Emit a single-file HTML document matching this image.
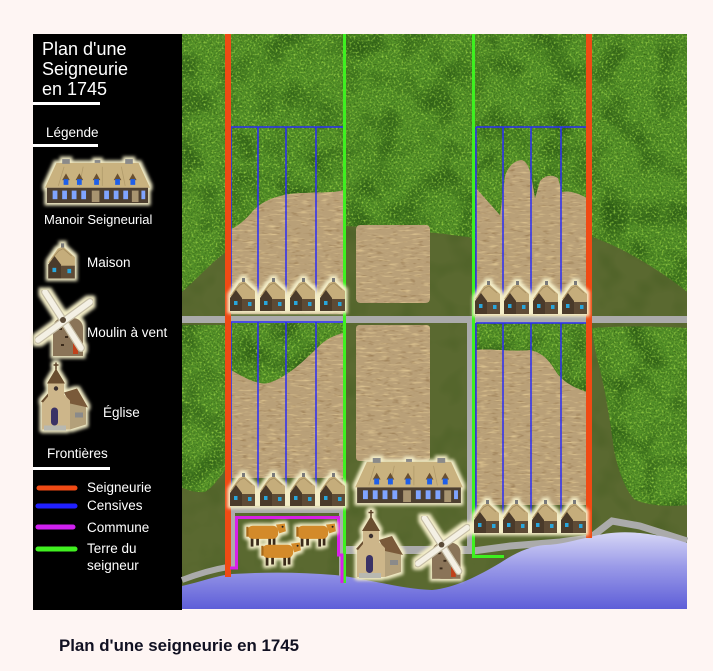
<!DOCTYPE html>
<html><head><meta charset="utf-8">
<style>
html,body{margin:0;padding:0;background:#fef5f3;}
svg{display:block;}
text{font-family:"Liberation Sans",Arial,sans-serif;}
</style></head>
<body>
<svg width="713" height="671" viewBox="0 0 713 671" xmlns="http://www.w3.org/2000/svg">
<defs>
  <filter id="glow" x="-25%" y="-25%" width="150%" height="150%" color-interpolation-filters="sRGB">
    <feMorphology in="SourceAlpha" operator="dilate" radius="2.5" result="d"/>
    <feGaussianBlur in="d" stdDeviation="1.6" result="b"/>
    <feFlood flood-color="#f4eec8"/>
    <feComposite in2="b" operator="in" result="g"/>
    <feMerge><feMergeNode in="g"/><feMergeNode in="SourceGraphic"/></feMerge>
  </filter>
  <filter id="ftex" filterUnits="userSpaceOnUse" x="182" y="34" width="505" height="575" color-interpolation-filters="sRGB">
    <feTurbulence type="fractalNoise" baseFrequency="0.5" numOctaves="2" seed="7" result="n"/>
    <feColorMatrix in="n" type="matrix" values="0 0 0 0 0.58  0 0 0 0 0.8  0 0 0 0 0.26  3 0 0 0 -1.5" result="l"/>
    <feTurbulence type="fractalNoise" baseFrequency="0.035" numOctaves="2" seed="3" result="n2"/>
    <feColorMatrix in="n2" type="matrix" values="0 0 0 0 0.17  0 0 0 0 0.36  0 0 0 0 0.08  2.4 0 0 0 -1.05" result="dk"/>
    <feTurbulence type="fractalNoise" baseFrequency="0.7" numOctaves="1" seed="21" result="n3"/>
    <feColorMatrix in="n3" type="matrix" values="0 0 0 0 0.2  0 0 0 0 0.38  0 0 0 0 0.08  3 0 0 0 -1.5" result="dk2"/>
    <feMerge result="m"><feMergeNode in="SourceGraphic"/><feMergeNode in="dk"/><feMergeNode in="dk2"/><feMergeNode in="l"/></feMerge>
    <feComposite in="m" in2="SourceAlpha" operator="in"/>
  </filter>
  <filter id="wtex" filterUnits="userSpaceOnUse" x="182" y="34" width="505" height="575" color-interpolation-filters="sRGB">
    <feTurbulence type="fractalNoise" baseFrequency="0.09 0.5" numOctaves="2" seed="11" result="n"/>
    <feColorMatrix in="n" type="matrix" values="0 0 0 0 0.86  0 0 0 0 0.76  0 0 0 0 0.56  3 0 0 0 -1.6" result="l"/>
    <feTurbulence type="fractalNoise" baseFrequency="0.12 0.4" numOctaves="2" seed="4" result="n2"/>
    <feColorMatrix in="n2" type="matrix" values="0 0 0 0 0.58  0 0 0 0 0.46  0 0 0 0 0.3  2.5 0 0 0 -1.45" result="dk"/>
    <feMerge result="m"><feMergeNode in="SourceGraphic"/><feMergeNode in="dk"/><feMergeNode in="l"/></feMerge>
    <feComposite in="m" in2="SourceAlpha" operator="in"/>
  </filter>
  <filter id="otex" filterUnits="userSpaceOnUse" x="182" y="34" width="505" height="575" color-interpolation-filters="sRGB">
    <feTurbulence type="fractalNoise" baseFrequency="0.04" numOctaves="2" seed="9" result="n"/>
    <feColorMatrix in="n" type="matrix" values="0 0 0 0 0.3  0 0 0 0 0.38  0 0 0 0 0.15  2 0 0 0 -0.9" result="l"/>
    <feMerge result="m"><feMergeNode in="SourceGraphic"/><feMergeNode in="l"/></feMerge>
    <feComposite in="m" in2="SourceAlpha" operator="in"/>
  </filter>
  <linearGradient id="water" x1="0" y1="0" x2="0" y2="1">
    <stop offset="0" stop-color="#d6d6f6"/>
    <stop offset="0.45" stop-color="#9a9ae8"/>
    <stop offset="1" stop-color="#5e5ed8"/>
  </linearGradient>

  <symbol id="house" viewBox="0 0 30 36">
    <polygon points="3,18 12,5 17,3 28,13 28,22 10,22" fill="#c5ad7b"/>
    <polyline points="6,15 13,7 17,5 25,12" fill="none" stroke="#a38c5e" stroke-width="0.8"/>
    <rect x="15" y="0" width="3" height="4" fill="#7a7a7a"/>
    <polygon points="3,20 9,12 15,20 15,33 3,33" fill="#4a3a2a"/>
    <rect x="15" y="21" width="13" height="12" fill="#5e4b36"/>
    <rect x="7" y="23" width="3.5" height="4" fill="#28a6dc"/>
    <rect x="21" y="24" width="3.5" height="4" fill="#28a6dc"/>
  </symbol>

  <symbol id="manor" viewBox="0 0 110 48">
    <polygon points="12,4 98,4 110,30 0,30" fill="#c9b27f"/>
    <path d="M20,8 L14,28 M40,8 L36,28 M60,8 L60,28 M80,8 L84,28" stroke="#b09a6a" stroke-width="0.8"/>
    <rect x="18" y="0" width="8" height="5" fill="#8a8a8a"/>
    <rect x="52" y="1" width="6" height="3" fill="#8a8a8a"/>
    <rect x="84" y="0" width="8" height="5" fill="#8a8a8a"/>
    <g fill="#6a5030">
      <polygon points="18,22 22,15 26,22"/><polygon points="32,22 36,15 40,22"/><polygon points="50,22 54,15 58,22"/><polygon points="72,22 76,15 80,22"/><polygon points="88,22 92,15 96,22"/>
    </g>
    <g fill="#1f5fe8">
      <rect x="19.5" y="21" width="5" height="6"/><rect x="33.5" y="21" width="5" height="6"/><rect x="51.5" y="21" width="5" height="6"/><rect x="73.5" y="21" width="5" height="6"/><rect x="89.5" y="21" width="5" height="6"/>
    </g>
    <rect x="2" y="30" width="106" height="16" fill="#4d3f30"/>
    <g fill="#7fa4ff">
      <rect x="8" y="33" width="5" height="9"/><rect x="18" y="33" width="5" height="9"/><rect x="28" y="33" width="5" height="9"/><rect x="38" y="33" width="5" height="9"/>
      <rect x="62" y="33" width="5" height="9"/><rect x="72" y="33" width="5" height="9"/><rect x="82" y="33" width="5" height="9"/><rect x="101" y="33" width="4" height="9"/>
    </g>
    <rect x="49" y="33" width="8" height="12" fill="#a89470"/>
    <rect x="91" y="33" width="7" height="12" fill="#a89470"/>
  </symbol>

  <symbol id="church" viewBox="0 0 48 70">
    <line x1="16" y1="0" x2="16" y2="7" stroke="#5a4028" stroke-width="1.5"/>
    <line x1="13.5" y1="2.5" x2="18.5" y2="2.5" stroke="#5a4028" stroke-width="1.5"/>
    <polygon points="30,40 30,67 46,62 46,44" fill="#b3a07a"/>
    <polygon points="24,30 37,26 48,45 30,41" fill="#7a5a3a"/>
    <polygon points="2,67 2,38 8,32 8,20 24,20 24,32 30,38 30,67" fill="#cdb68a"/>
    <polygon points="7,21 16,6 25,21" fill="#6a4e30"/>
    <polygon points="1,39 8,31 8,34 3,40" fill="#6a4e30"/>
    <circle cx="16" cy="26" r="2.2" fill="#3a3030"/>
    <rect x="11" y="45" width="7" height="18" rx="3.5" fill="#3a3266"/>
    <rect x="4" y="63" width="22" height="5" fill="#b8b8b0"/>
    <rect x="35" y="50" width="8" height="5" fill="#8a8a8a"/>
  </symbol>

  <symbol id="mill" viewBox="0 0 58 67">
    <rect x="18" y="28" width="30" height="38" rx="10" fill="#8a7458"/>
    <rect x="18" y="40" width="30" height="26" fill="#8a7458"/>
    <g fill="#3a2a1a"><rect x="24" y="38" width="3" height="2"/><rect x="30" y="46" width="3" height="2"/><rect x="26" y="54" width="3" height="2"/></g>
    <rect x="38" y="52" width="5" height="12" fill="#c0401a"/>
    <line x1="10" y1="2" x2="46" y2="58" stroke="#c8c0a8" stroke-width="8" stroke-linecap="round"/>
    <line x1="10" y1="2" x2="46" y2="58" stroke="#f4f0e4" stroke-width="5.5" stroke-linecap="round"/>
    <line x1="55" y1="12" x2="3" y2="50" stroke="#c8c0a8" stroke-width="8" stroke-linecap="round"/>
    <line x1="55" y1="12" x2="3" y2="50" stroke="#f4f0e4" stroke-width="5.5" stroke-linecap="round"/>
    <circle cx="28" cy="30" r="3" fill="#5a4a38"/>
  </symbol>

  <symbol id="cow" viewBox="0 0 40 26">
    <g fill="#3a2a1a"><rect x="7" y="14" width="2.5" height="10"/><rect x="12" y="14" width="2.5" height="9"/><rect x="23" y="14" width="2.5" height="10"/><rect x="27" y="14" width="2.5" height="9"/></g>
    <rect x="4" y="5" width="28" height="12" rx="5" fill="#d38a2a"/>
    <polygon points="30,4 38,3 39,10 33,12" fill="#d38a2a"/>
    <rect x="3" y="6" width="2" height="9" fill="#a86a1a"/>
    <circle cx="36" cy="6" r="0.9" fill="#222"/>
  </symbol>
</defs>

<!-- page background -->
<rect x="0" y="0" width="713" height="671" fill="#fef5f3"/>

<!-- black legend panel -->
<rect x="33" y="34" width="149" height="576" fill="#000"/>

<!-- MAP -->
<g>
  <rect x="182" y="34" width="505" height="575" fill="#5a6930" filter="url(#otex)"/>

  <!-- roads -->
  <g fill="#ababab">
    <rect x="182" y="316" width="505" height="7"/>
    <rect x="230" y="507" width="115" height="6"/>
    <rect x="230" y="507" width="5" height="62"/>
    <rect x="339" y="507" width="6" height="76"/>
    <rect x="345" y="546" width="128" height="8"/>
    <rect x="467" y="323" width="6" height="231"/>
  </g>
  <path d="M473,551 L510,546 L560,542 L590,538 L612,521 L640,526 L687,541" fill="none" stroke="#ababab" stroke-width="7"/>
  <path d="M182,580 C195,575 210,570 228,567" fill="none" stroke="#ababab" stroke-width="6"/>

  <!-- forests -->
  <g fill="#4f8c26" filter="url(#ftex)">
    <path d="M182,34 H687 V292 C670,278 640,258 612,245 C602,241 596,238 590,236 L590,250 L475,250 L473,238 C450,234 400,229 346,226 L346,250 L231,250 L226,252 C212,262 196,280 182,292 Z"/>
    <path d="M182,325 H225 V470 C218,480 212,488 205,492 C195,493 188,490 182,488 Z"/>
    <path d="M592,328 C620,326 660,326 687,328 V505 C670,507 650,506 635,500 C625,490 618,470 614,450 C610,420 605,390 600,370 C596,355 593,340 592,328 Z"/>
    <rect x="231" y="323" width="112" height="80"/>
    <rect x="476" y="323" width="111" height="80"/>
  </g>

  <!-- wheat fields -->
  <g fill="#b9a078" filter="url(#wtex)">
    <path d="M231,229 C238,226 245,220 252,212 C262,200 280,194 300,193 C320,192 335,193 343,190 L343,314 L231,314 Z"/>
    <rect x="356" y="225" width="74" height="78" rx="4"/>
    <path d="M476,188 L500,215 L505,176 C508,166 515,160 522,160 C528,162 530,170 532,180 L535,198 L540,181 C545,175 552,174 558,178 L562,192 C570,190 580,194 587,198 L587,316 L476,316 Z"/>
    <path d="M231,370 C245,378 258,385 268,383 C285,378 300,365 320,345 C328,338 335,335 343,333 L343,478 L231,478 Z"/>
    <rect x="356" y="325" width="74" height="136" rx="3"/>
    <path d="M476,350 C490,348 510,352 530,350 C540,352 548,358 555,370 C562,382 575,388 587,392 L587,505 L476,505 Z"/>
  </g>

  <!-- water -->
  <path d="M182,586 C200,582 215,576 232,574 C265,572 300,572 335,575 C370,579 400,589 432,590 C455,588 480,575 500,563 C515,553 530,546 545,545 C560,545 575,540 590,537 C605,533 620,531 640,533 C660,535 675,539 687,543 L687,609 L182,609 Z" fill="url(#water)"/>

  <!-- censive blue lines -->
  <g stroke="#2a2cf5" stroke-width="1.5" fill="none">
    <path d="M231,127 H343 M231,127 V300 M258,127 V300 M286,127 V300 M316,127 V300"/>
    <path d="M231,322 H343 M231,322 V490 M258,322 V490 M286,322 V490 M316,322 V490"/>
    <path d="M476,127 H587 M476,127 V300 M503,127 V300 M531,127 V300 M561,127 V300"/>
    <path d="M476,323 H587 M476,323 V515 M503,323 V515 M531,323 V515 M561,323 V515"/>
  </g>

  <!-- seigneurie red -->
  <rect x="225" y="34" width="6" height="543" fill="#f04a14"/>
  <rect x="586" y="34" width="6" height="504" fill="#f04a14"/>
  <!-- terre du seigneur green -->
  <rect x="343" y="34" width="3" height="549" fill="#3ef020"/>
  <path d="M473.5,34 V556.5 H504" fill="none" stroke="#3ef020" stroke-width="3"/>
  <!-- commune magenta -->
  <path d="M230,568 H236.5 V517.5 H338.5 V555 H342 V583" fill="none" stroke="#d820e8" stroke-width="3"/>

  <!-- houses -->
  <g filter="url(#glow)">
    <use href="#house" x="227" y="278" width="30" height="36"/>
    <use href="#house" x="257" y="278" width="30" height="36"/>
    <use href="#house" x="287" y="278" width="30" height="36"/>
    <use href="#house" x="317" y="278" width="30" height="36"/>
    <use href="#house" x="472" y="281" width="30" height="36"/>
    <use href="#house" x="501" y="281" width="30" height="36"/>
    <use href="#house" x="530" y="281" width="30" height="36"/>
    <use href="#house" x="559" y="281" width="30" height="36"/>
    <use href="#house" x="227" y="473" width="30" height="36"/>
    <use href="#house" x="257" y="473" width="30" height="36"/>
    <use href="#house" x="287" y="473" width="30" height="36"/>
    <use href="#house" x="317" y="473" width="30" height="36"/>
    <use href="#house" x="471" y="500" width="30" height="36"/>
    <use href="#house" x="500" y="500" width="30" height="36"/>
    <use href="#house" x="529" y="500" width="30" height="36"/>
    <use href="#house" x="558" y="500" width="30" height="36"/>
    <use href="#manor" x="354" y="458" width="110" height="47"/>
    <use href="#church" x="355" y="510" width="48" height="70"/>
    <use href="#mill" x="415" y="516" width="55" height="64"/>
    <use href="#cow" x="243" y="520" width="44" height="29"/>
    <use href="#cow" x="293" y="520" width="44" height="29"/>
    <use href="#cow" x="258" y="539" width="44" height="29"/>
  </g>
</g>

<!-- LEGEND -->
<g fill="#fff">
  <text x="42" y="55" font-size="18">Plan d'une</text>
  <text x="42" y="75" font-size="18">Seigneurie</text>
  <text x="42" y="95" font-size="18">en 1745</text>
  <rect x="33" y="102" width="67" height="3"/>
  <text x="46" y="137" font-size="13.5">Légende</text>
  <rect x="33" y="144" width="65" height="3"/>
  <text x="44" y="224" font-size="13">Manoir Seigneurial</text>
  <text x="87" y="267" font-size="13.5">Maison</text>
  <text x="87" y="337" font-size="13.5">Moulin à vent</text>
  <text x="103" y="417" font-size="13.5">Église</text>
  <text x="47" y="458" font-size="13.5">Frontières</text>
  <rect x="33" y="467" width="77" height="3"/>
  <text x="87" y="492" font-size="13.5">Seigneurie</text>
  <text x="87" y="510" font-size="13.5">Censives</text>
  <text x="87" y="532" font-size="13.5">Commune</text>
  <text x="87" y="553" font-size="13.5">Terre du</text>
  <text x="87" y="570" font-size="13.5">seigneur</text>
</g>
<g stroke-width="5" stroke-linecap="round">
  <line x1="39" y1="488" x2="75" y2="488" stroke="#f04a14"/>
  <line x1="38" y1="506" x2="75" y2="506" stroke="#2020ff"/>
  <line x1="38" y1="527" x2="73" y2="527" stroke="#d020f0"/>
  <line x1="38" y1="549" x2="75" y2="549" stroke="#40f020"/>
</g>
<g filter="url(#glow)">
  <use href="#manor" x="45" y="157" width="105" height="50"/>
  <use href="#house" x="45" y="242" width="32" height="41"/>
  <use href="#mill" x="35" y="290" width="58" height="67"/>
  <use href="#church" x="40" y="362" width="48" height="71"/>
</g>

<!-- caption -->
<text x="59" y="651" font-size="17" font-weight="bold" fill="#111122" textLength="240" lengthAdjust="spacingAndGlyphs">Plan d'une seigneurie en 1745</text>
</svg>
</body></html>
